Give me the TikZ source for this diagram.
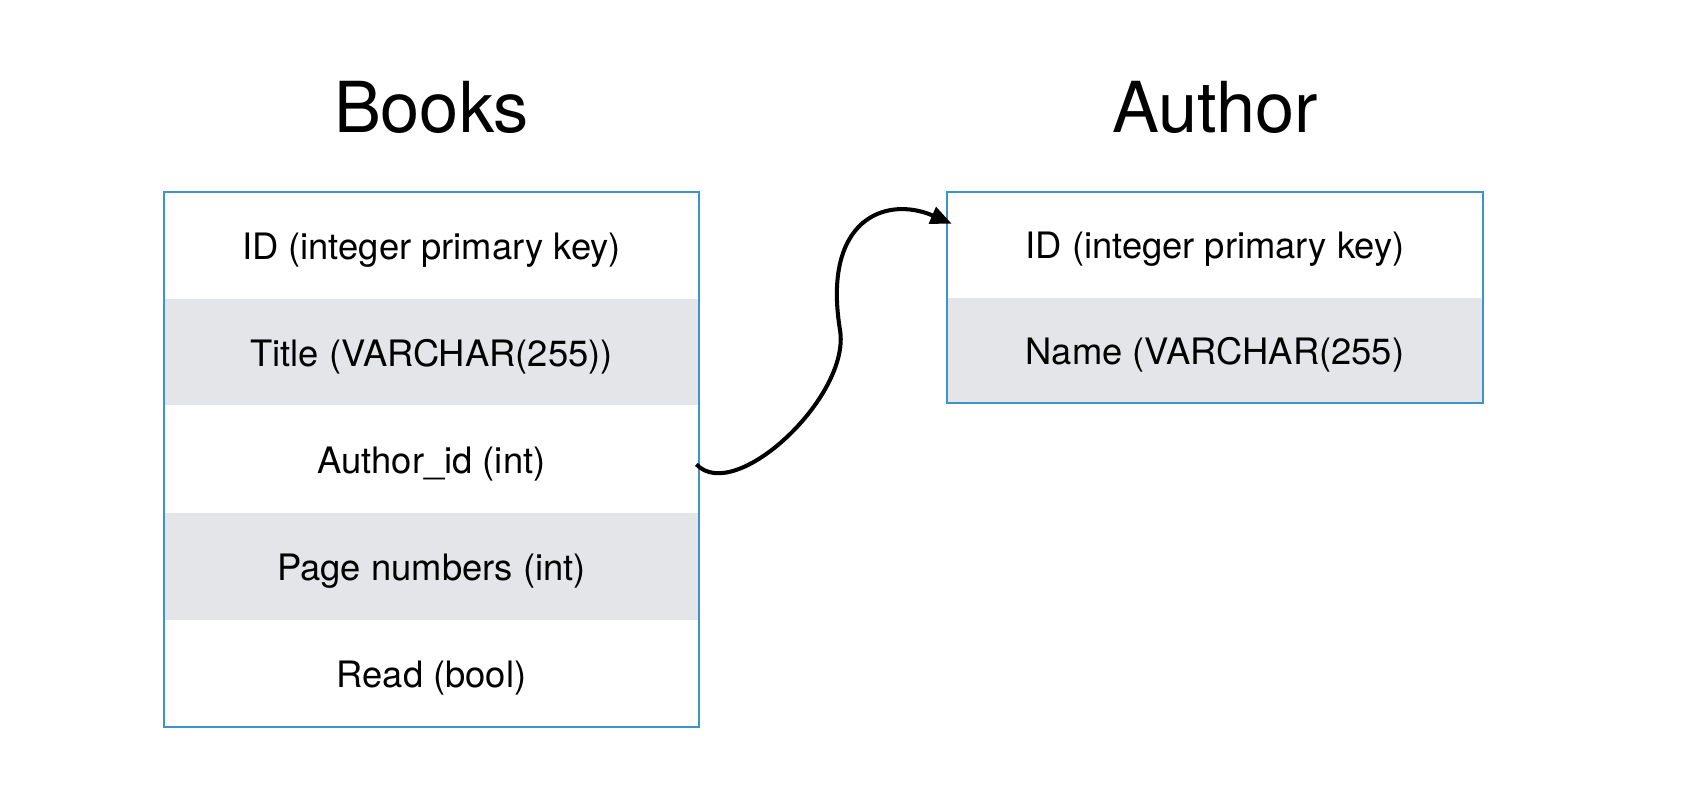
\documentclass[tikz,border=0pt]{standalone}
\usepackage{fontspec}
\setmainfont{TeX Gyre Heros}
\usetikzlibrary{positioning}
\usetikzlibrary{calc}
\usetikzlibrary{arrows.meta}
\definecolor{tableblue}{RGB}{58,150,202}
\definecolor{rowgray}{RGB}{228,229,232}

\begin{document}
\begin{tikzpicture}[>={Triangle[length=12pt,width=10pt]},node distance=0pt]
	\tikzstyle{field}=[minimum width=10.7cm,minimum height=2.128cm,inner sep=0pt,text height=20.3pt,text depth=4.5pt,font=\fontsize{20.7}{25}\selectfont]
	\tikzstyle{shaded}=[field,fill=rowgray]
	\tikzstyle{table}=[draw=tableblue,line width=1.1pt]
	\tikzstyle{heading}=[font=\fontsize{40}{48}\selectfont,anchor=base]
	\tikzstyle{link}=[->,line width=2.3pt]
	\useasboundingbox (0,0) rectangle (33.8,15.88);

	% Books table
	\node[field]  (B_1) at (8.63,10.976) {ID (integer primary key)};
	\node[shaded] (B_2) [below=of B_1] {Title (VARCHAR(255))};
	\node[field]  (B_3) [below=of B_2] {Author\_id (int)};
	\node[shaded] (B_4) [below=of B_3] {Page numbers (int)};
	\node[field]  (B_5) [below=of B_4] {Read (bool)};
	\draw[table] (B_1.north west) rectangle (B_5.south east);
	\node[heading] (books) at ($(B_1.north)+(0,1.19)$) {Books};

	% Author table
	\node[field,minimum height=2.1cm]  (A_1) at (24.3,10.99) {ID (integer primary key)};
	\node[shaded,minimum height=2.1cm] (A_2) [below=of A_1] {Name (VARCHAR(255)};
	\draw[table] (A_1.north west) rectangle (A_2.south east);
	\node[heading] (author) at ($(A_1.north)+(0,1.19)$) {Author};

	\draw[link] ([shift={(-0.06,-0.1)}]B_3.east)
		.. controls (14.70,5.78) and (17.02,7.96) .. (16.80,9.28)
		.. controls (16.44,11.48) and (17.70,11.98) .. ([shift={(0.09,-0.64)}]A_1.north west);
\end{tikzpicture}
\end{document}
